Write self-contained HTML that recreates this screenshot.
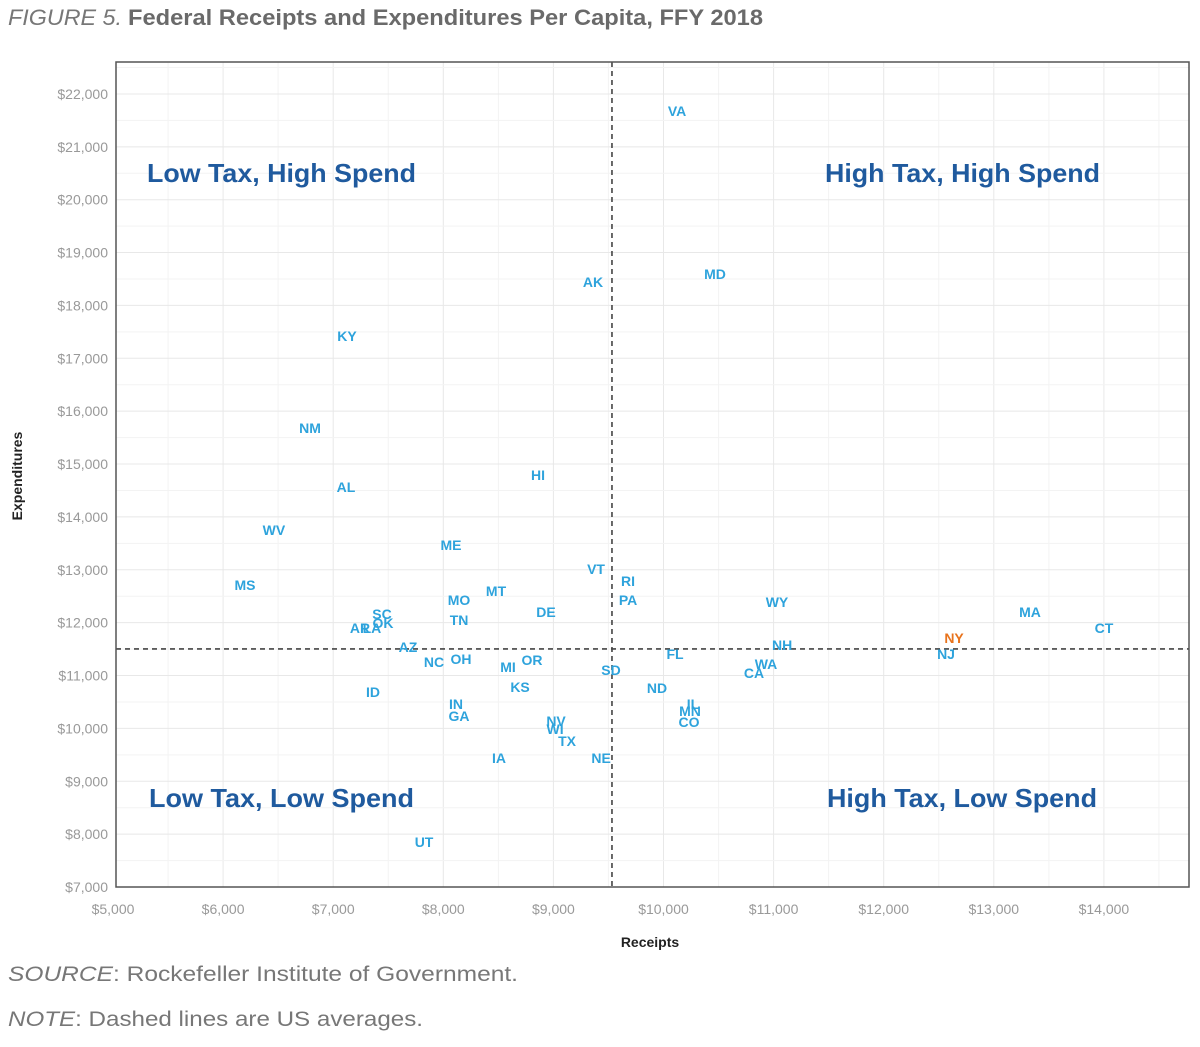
<!DOCTYPE html>
<html><head><meta charset="utf-8">
<style>
body{margin:0;background:#fff;width:1200px;height:1042px;overflow:hidden;font-family:"Liberation Sans",sans-serif}
</style></head>
<body>
<svg id="chart" width="1200" height="1042" xmlns="http://www.w3.org/2000/svg">
<text x="8" y="25" font-size="22" fill="#777"><tspan font-style="italic" textLength="114" lengthAdjust="spacingAndGlyphs">FIGURE 5.</tspan><tspan x="128" font-weight="bold" fill="#6a6a6a" textLength="635" lengthAdjust="spacingAndGlyphs">Federal Receipts and Expenditures Per Capita, FFY 2018</tspan></text>
<g id="grid"></g>
<g id="axes"></g>
<g id="marks"></g>
<rect x="116" y="62" width="1073" height="825" fill="none" stroke="#555" stroke-width="1.5"/>
<text x="147" y="182" font-size="26" font-weight="bold" fill="#1f5a9e" textLength="269" lengthAdjust="spacingAndGlyphs">Low Tax, High Spend</text>
<text x="825" y="182" font-size="26" font-weight="bold" fill="#1f5a9e" textLength="275" lengthAdjust="spacingAndGlyphs">High Tax, High Spend</text>
<text x="149" y="807" font-size="26" font-weight="bold" fill="#1f5a9e" textLength="265" lengthAdjust="spacingAndGlyphs">Low Tax, Low Spend</text>
<text x="827" y="807" font-size="26" font-weight="bold" fill="#1f5a9e" textLength="270" lengthAdjust="spacingAndGlyphs">High Tax, Low Spend</text>
<text transform="translate(22,476) rotate(-90)" text-anchor="middle" font-size="14" font-weight="bold" fill="#222">Expenditures</text>
<text x="650" y="947" text-anchor="middle" font-size="14" font-weight="bold" fill="#222">Receipts</text>
<text x="8" y="981" font-size="21" fill="#777" textLength="510" lengthAdjust="spacingAndGlyphs"><tspan font-style="italic">SOURCE</tspan>: Rockefeller Institute of Government.</text>
<text x="8" y="1026" font-size="21" fill="#777" textLength="415" lengthAdjust="spacingAndGlyphs"><tspan font-style="italic">NOTE</tspan>: Dashed lines are US averages.</text>
</svg>
<script>
const states=["VA","MD","AK","KY","NM","AL","HI","WV","ME","MS","VT","RI","PA","MT","MO","TN","DE","WY","MA","CT","NY","NJ","NH","WA","CA","FL","SD","ND","IL","MN","CO","NE","NV","WI","TX","IA","KS","MI","OR","OH","NC","AZ","ID","IN","GA","UT","AR","LA","OK","SC"];
const receipts=[10123,10468,9360,7125,6789,7116,8860,6462,8070,6199,9387,9678,9678,8479,8143,8143,8933,11031,13329,14001,12639,12566,11077,10931,10822,10105,9523,9941,10268,10241,10232,9433,9024,9015,9124,8506,8697,8588,8806,8161,7916,7679,7362,8115,8143,7825,7243,7352,7452,7443];
const expenditures=[21674,18592,18441,17419,15680,14564,14791,13751,13467,12711,13013,12786,12427,12597,12427,12049,12200,12389,12200,11898,11709,11406,11576,11217,11047,11406,11103,10763,10461,10328,10120,9439,10139,9988,9761,9439,10782,11160,11293,11311,11255,11538,10687,10461,10234,7851,11898,11898,11992,12162];
const avgReceipts=9532;
const avgExpenditures=11502;
const xTicks=[5000,6000,7000,8000,9000,10000,11000,12000,13000,14000];
const yTicks=[7000,8000,9000,10000,11000,12000,13000,14000,15000,16000,17000,18000,19000,20000,21000,22000];
const highlight=["NY"];
const X=v=>113+(v-5000)*0.1101;
const Y=v=>887-(v-7000)*0.05287;
const NS="http://www.w3.org/2000/svg";
function mk(t,a,p){const e=document.createElementNS(NS,t);for(const k in a)e.setAttribute(k,a[k]);p.appendChild(e);return e;}
const grid=document.getElementById('grid'),axes=document.getElementById('axes'),marks=document.getElementById('marks');
const fmt=v=>"$"+v.toLocaleString("en-US");
for(let v=5000;v<=14500;v+=500){const x=X(v);if(x<=116)continue;const l=mk('line',{x1:x,x2:x,y1:62,y2:887,stroke:v%1000?'#f3f3f3':'#e8e8e8'},grid);

}
for(let v=7000;v<=22500;v+=500){const y=Y(v);if(y<62)continue;const l=mk('line',{x1:116,x2:1189,y1:y,y2:y,stroke:v%1000?'#f3f3f3':'#e8e8e8'},grid);

}
xTicks.forEach(v=>{const t=mk('text',{x:X(v),y:914,'text-anchor':'middle','font-size':14,fill:'#999'},axes);t.textContent=fmt(v);

});
yTicks.forEach(v=>{const t=mk('text',{x:108,y:Y(v)+5,'text-anchor':'end','font-size':14,fill:'#999'},axes);t.textContent=fmt(v);

});
const vl=mk('line',{x1:X(avgReceipts),x2:X(avgReceipts),y1:62,y2:887,stroke:'#444','stroke-width':1.6,'stroke-dasharray':'5,4'},marks);


const hl=mk('line',{x1:116,x2:1189,y1:Y(avgExpenditures),y2:Y(avgExpenditures),stroke:'#444','stroke-width':1.6,'stroke-dasharray':'5,4'},marks);


states.forEach((s,i)=>{const t=mk('text',{x:X(receipts[i]),y:Y(expenditures[i])+5,'text-anchor':'middle','font-size':14,'font-weight':'bold',fill:highlight.includes(s)?'#e8731c':'#2ea3dc'},marks);t.textContent=s;

});
</script>
</body></html>
